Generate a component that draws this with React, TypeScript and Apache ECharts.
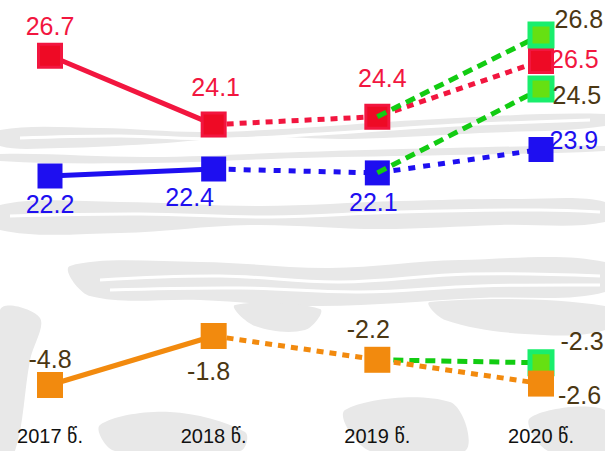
import React, { useEffect, useRef } from "react";
import * as echarts from "echarts";

// ---- data ----
const years = ["2017 წ.", "2018 წ.", "2019 წ.", "2020 წ."];
const redFact = [26.7, 24.1]; // 2017–2018
const redEst = [24.1, 24.4, 26.5]; // 2018–2020
const blueFact = [22.2, 22.4];
const blueEst = [22.4, 22.1, 23.9];
const greenTop = [24.4, 26.8]; // 2019–2020
const greenMid = [22.1, 24.5];
const orangeFact = [-4.8, -1.8];
const orangeEst = [-1.8, -2.2, -2.6];
const greenLow = [-2.2, -2.3];

// hidden value axes (the picture is not drawn to a single scale)
const axisRanges: [number, number][] = [
  [12.953, 28.802], // 0 red
  [15.49, 27.828], // 1 green top
  [15.2286, 27.2286], // 2 blue fact
  [3.0923, 35.4], // 3 blue est
  [15.04, 27.04], // 4 green mid
  [-6.943, 18.771], // 5 orange fact
  [-3.212, 3.847], // 6 orange est
  [-4.207, 9.793], // 7 green low
];

const RED = "#F2163F";
const BLUE = "#1E0FF0";
const GREEN_LINE = "#12CC12";
const GREEN_FILL = "#66E012";
const GREEN_BORDER = "#19EE6C";
const ORANGE = "#F28A0E";
const BROWN = "#4B3713";
const FONT = "'Liberation Sans', 'DejaVu Sans', Arial, sans-serif";

type LabelCfg = null | { position: string; distance?: number; offset?: [number, number]; color: string };

function build(values: number[], start: number, labels: LabelCfg[], hideFirst = false) {
  const out: any[] = [null, null, null, null];
  values.forEach((v, i) => {
    const item: any = { value: v };
    const l = labels[i];
    if (l) item.label = { show: true, ...l };
    else item.label = { show: false };
    if (hideFirst && i === 0) item.symbol = "none";
    out[start + i] = item;
  });
  return out;
}

// decorative brush-stroke background
const bgShapes: number[][][] = [
  [[0, 130], [100, 128], [200, 132], [300, 128], [420, 120], [605, 114], [605, 126], [480, 133], [350, 139], [250, 137], [150, 144], [60, 148], [0, 146]],
  [[0, 154], [150, 157], [300, 152], [450, 148], [605, 146], [605, 151], [450, 155], [300, 158], [150, 163], [0, 161]],
  [[0, 205], [120, 202], [260, 206], [400, 201], [520, 199], [605, 202], [605, 222], [500, 225], [380, 229], [250, 225], [120, 233], [0, 230]],
  [[70, 266], [200, 262], [330, 268], [460, 260], [605, 262], [605, 292], [480, 298], [320, 306], [200, 300], [90, 296]],
  [[0, 310], [40, 318], [30, 360], [15, 451], [0, 451]],
  [[235, 305], [320, 309], [305, 330], [255, 326]],
  [[430, 302], [605, 306], [605, 330], [525, 334], [445, 320]],
  [[100, 425], [170, 412], [245, 432], [240, 451], [115, 451]],
  [[345, 410], [450, 402], [465, 451], [370, 451]],
  [[530, 418], [605, 410], [605, 451], [548, 451]],
];
const whiteStreaks: number[][][] = [
  [[20, 138], [120, 136], [220, 139], [320, 134], [440, 126], [590, 120]],
  [[10, 216], [140, 214], [270, 217], [400, 212], [540, 210], [600, 212]],
  [[100, 280], [220, 276], [340, 282], [470, 274], [600, 276]],
  [[110, 290], [240, 288], [360, 292], [480, 286], [600, 285]],
];

export default function App() {
  const ref = useRef<HTMLDivElement>(null);
  useEffect(() => {
    document.body.style.margin = "0";
    const chart = echarts.init(ref.current!, undefined, { renderer: "svg" });
    const redSym = { color: "#EE0A25", borderColor: RED, borderWidth: 3 };
    const greenSym = { color: GREEN_FILL, borderColor: GREEN_BORDER, borderWidth: 5 };
    const base = (yAxisIndex: number, color: string, width: number, type: any, z: number) => ({
      type: "line",
      yAxisIndex,
      symbol: "rect",
      symbolSize: 24,
      showSymbol: true,
      z,
      lineStyle: { color, width, type },
      label: { fontSize: 25, fontFamily: FONT },
      emphasis: { disabled: true },
    });
    const option: any = {
      animation: false,
      backgroundColor: "#ffffff",
      graphic: [
        ...bgShapes.map((pts) => ({
          type: "polygon",
          silent: true,
          z: -10,
          shape: { points: pts, smooth: 0.35 },
          style: { fill: "#E8E8E8" },
        })),
        ...whiteStreaks.map((pts) => ({
          type: "polyline",
          silent: true,
          z: -9,
          shape: { points: pts, smooth: 0.4 },
          style: { stroke: "#ffffff", lineWidth: 3, fill: null },
        })),
      ],
      grid: { left: 50, right: 64, top: 0, bottom: 31 },
      xAxis: {
        type: "category",
        boundaryGap: false,
        data: years,
        axisLine: { show: false },
        axisTick: { show: false },
        splitLine: { show: false },
        axisLabel: { color: "#111111", fontSize: 20, fontFamily: FONT, margin: 6 },
      },
      yAxis: axisRanges.map(([min, max]) => ({ type: "value", min, max, show: false })),
      series: [
        {
          ...base(0, RED, 5, "solid", 5),
          symbolSize: 23,
          itemStyle: redSym,
          data: build(redFact, 0, [
            { position: "top", distance: 4, color: RED },
            { position: "top", distance: 12, offset: [2, 0], color: RED },
          ]),
        },
        {
          ...base(0, RED, 5, [7, 6], 3),
          symbolSize: 23,
          itemStyle: redSym,
          data: build(redEst, 1, [
            null,
            { position: "top", distance: 13, offset: [5, 0], color: RED },
            { position: "right", distance: 2, offset: [-6, -2], color: RED },
          ], true),
        },
        {
          ...base(2, BLUE, 5, "solid", 5),
          symbolSize: 25,
          itemStyle: { color: BLUE },
          data: build(blueFact, 0, [
            { position: "bottom", distance: 3, color: BLUE },
            { position: "bottom", distance: 3, offset: [-24, 0], color: BLUE },
          ]),
        },
        {
          ...base(3, BLUE, 5, [7, 8], 3),
          symbolSize: 25,
          itemStyle: { color: BLUE },
          data: build(blueEst, 1, [
            null,
            { position: "bottom", distance: 4, offset: [-4, 0], color: BLUE },
            { position: "right", distance: 2, offset: [-6, -10], color: BLUE },
          ], true),
        },
        {
          ...base(1, GREEN_LINE, 5, [10, 6], 6),
          symbolSize: 22,
          itemStyle: greenSym,
          data: build(greenTop, 2, [null, { position: "right", distance: 2, offset: [-2, -16], color: BROWN }], true),
        },
        {
          ...base(4, GREEN_LINE, 5, [10, 6], 6),
          symbolSize: 22,
          itemStyle: greenSym,
          data: build(greenMid, 2, [null, { position: "right", distance: 2, offset: [-4, 6], color: BROWN }], true),
        },
        {
          ...base(5, ORANGE, 5, "solid", 5),
          symbolSize: 26,
          itemStyle: { color: ORANGE },
          data: build(orangeFact, 0, [
            { position: "top", distance: 0, color: BROWN },
            { position: "bottom", distance: 10, offset: [-5, 0], color: BROWN },
          ]),
        },
        {
          ...base(6, ORANGE, 5, [7, 6], 3),
          symbolSize: 26,
          itemStyle: { color: ORANGE },
          data: build(orangeEst, 1, [
            null,
            { position: "top", distance: 5, offset: [-9, 0], color: BROWN },
            { position: "right", distance: 2, offset: [2, 11], color: BROWN },
          ], true),
        },
        {
          ...base(7, GREEN_LINE, 5, [10, 6], 1),
          symbolSize: 22,
          itemStyle: greenSym,
          data: build(greenLow, 2, [null, { position: "right", distance: 2, offset: [4, -22], color: BROWN }], true),
        },
      ],
    };
    chart.setOption(option);
    return () => chart.dispose();
  }, []);
  return <div ref={ref} style={{ position: "absolute", left: 0, top: 0, width: 605, height: 451 }} />;
}
